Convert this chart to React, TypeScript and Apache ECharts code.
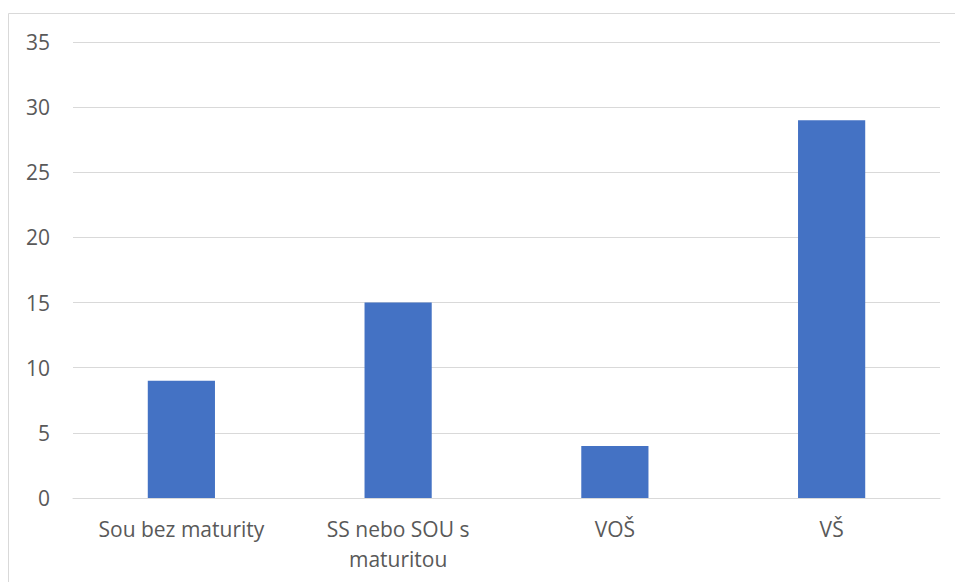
import React, { useEffect, useRef } from "react";
import * as echarts from "echarts";

const categories: string[] = ["Sou bez maturity", "SS nebo SOU s maturitou", "VOŠ", "VŠ"];
const values: number[] = [9, 15, 4, 29];
const labelLines: Record<string, string> = {
  "SS nebo SOU s maturitou": "SS nebo SOU s\nmaturitou",
};

export default function App() {
  const ref = useRef<HTMLDivElement>(null);
  useEffect(() => {
    document.body.style.margin = "0";
    const chart = echarts.init(ref.current!, null, { renderer: "svg" });
    chart.setOption({
      animation: false,
      backgroundColor: "#ffffff",
      textStyle: { fontFamily: "Open Sans, sans-serif" },
      graphic: [
        {
          type: "rect",
          shape: { x: 8.5, y: 13.5, width: 1000, height: 700 },
          style: { fill: "none", stroke: "#d9d9d9", lineWidth: 1 },
          silent: true,
          z: -1,
        },
      ],
      grid: { left: 73, right: 15, top: 42, bottom: 84, containLabel: false },
      xAxis: {
        type: "category",
        data: categories,
        axisLine: { show: true, lineStyle: { color: "#d9d9d9", width: 1 } },
        axisTick: { show: false },
        axisLabel: {
          color: "#595959",
          fontSize: 21,
          margin: 16,
          lineHeight: 30,
          interval: 0,
          formatter: (v: string) => labelLines[v] ?? v,
        },
      },
      yAxis: {
        type: "value",
        min: 0,
        max: 35,
        interval: 5,
        axisLine: { show: false },
        axisTick: { show: false },
        splitLine: { lineStyle: { color: "#d9d9d9", width: 1 } },
        axisLabel: { color: "#595959", fontSize: 21, margin: 23 },
      },
      series: [
        {
          type: "bar",
          data: values,
          barWidth: "31%",
          itemStyle: { color: "#4472C4" },
        },
      ],
    });
    return () => chart.dispose();
  }, []);
  return <div ref={ref} style={{ width: 955, height: 582 }} />;
}
